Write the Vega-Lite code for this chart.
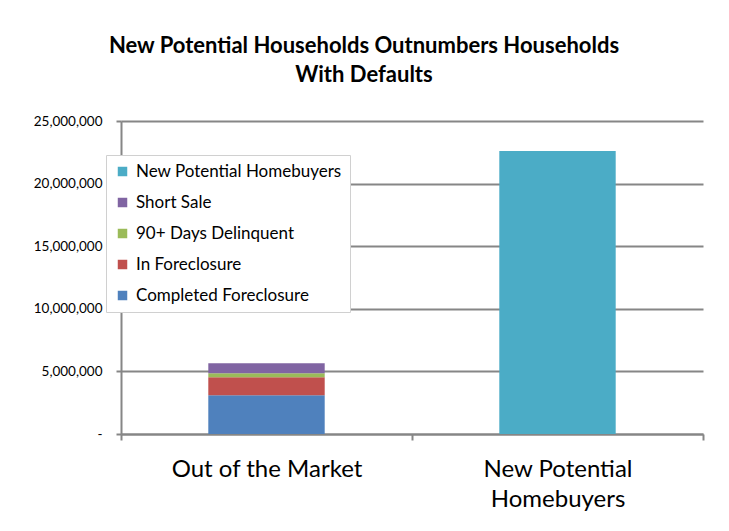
{
  "$schema": "https://vega.github.io/schema/vega-lite/v6.json",
  "width": 582,
  "height": 313,
  "autosize": {"type": "none"},
  "padding": {"left": 121, "top": 121, "right": 26, "bottom": 97},
  "background": "white",
  "title": {
    "text": ["New Potential Households Outnumbers Households", "With Defaults"],
    "font": "Lato",
    "fontSize": 22,
    "fontWeight": "bold",
    "color": "#000000",
    "lineHeight": 29,
    "anchor": "middle",
    "dx": -48,
    "offset": 27
  },
  "data": {
    "values": [
      {"category": "Out of the Market", "series": "Completed Foreclosure", "value": 3100000, "ord": 1},
      {"category": "Out of the Market", "series": "In Foreclosure", "value": 1440000, "ord": 2},
      {"category": "Out of the Market", "series": "90+ Days Delinquent", "value": 320000, "ord": 3},
      {"category": "Out of the Market", "series": "Short Sale", "value": 800000, "ord": 4},
      {"category": "New Potential Homebuyers", "series": "New Potential Homebuyers", "value": 22600000, "ord": 5}
    ]
  },
  "mark": {"type": "bar", "width": {"band": 0.4}},
  "encoding": {
    "x": {
      "field": "category",
      "type": "nominal",
      "sort": ["Out of the Market", "New Potential Homebuyers"],
      "scale": {"paddingInner": 0, "paddingOuter": 0},
      "axis": {
        "title": null,
        "labelAngle": 0,
        "labelFont": "Lato",
        "labelFontSize": 24,
        "labelColor": "#000000",
        "labelLineHeight": 30,
        "labelPadding": 17,
        "labelBaseline": "top",
        "labelLimit": 0,
        "labelExpr": "datum.label == 'New Potential Homebuyers' ? ['New Potential', 'Homebuyers'] : datum.label",
        "tickBand": "extent",
        "tickSize": 6,
        "tickColor": "#868686",
        "tickWidth": 2,
        "domainColor": "#868686",
        "domainWidth": 2,
        "grid": false
      }
    },
    "y": {
      "field": "value",
      "type": "quantitative",
      "stack": "zero",
      "scale": {"domain": [0, 25000000], "nice": false},
      "axis": {
        "title": null,
        "values": [0, 5000000, 10000000, 15000000, 20000000, 25000000],
        "labelExpr": "datum.value == 0 ? '-\u00a0\u00a0' : format(datum.value, ',')",
        "labelFont": "Lato",
        "labelFontSize": 13.5,
        "labelColor": "#000000",
        "labelPadding": 14,
        "tickSize": 5,
        "tickColor": "#868686",
        "tickWidth": 2,
        "domainColor": "#868686",
        "domainWidth": 2,
        "grid": true,
        "gridColor": "#868686",
        "gridWidth": 2
      }
    },
    "color": {
      "field": "series",
      "type": "nominal",
      "scale": {
        "domain": ["New Potential Homebuyers", "Short Sale", "90+ Days Delinquent", "In Foreclosure", "Completed Foreclosure"],
        "range": ["#4BACC6", "#8064A2", "#9BBB59", "#C0504D", "#4F81BD"]
      },
      "legend": {
        "title": null,
        "orient": "none",
        "legendX": -15,
        "legendY": 34,
        "fillColor": "white",
        "strokeColor": "#d0d0d0",
        "padding": 8,
        "labelFont": "Lato",
        "labelFontSize": 17,
        "labelColor": "#000000",
        "symbolType": "square",
        "symbolSize": 90,
        "symbolStrokeWidth": 0,
        "rowPadding": 13,
        "labelOffset": 5,
        "labelLimit": 300
      }
    },
    "order": {"field": "ord", "type": "quantitative", "sort": "ascending"}
  },
  "config": {
    "view": {"stroke": null}
  }
}
